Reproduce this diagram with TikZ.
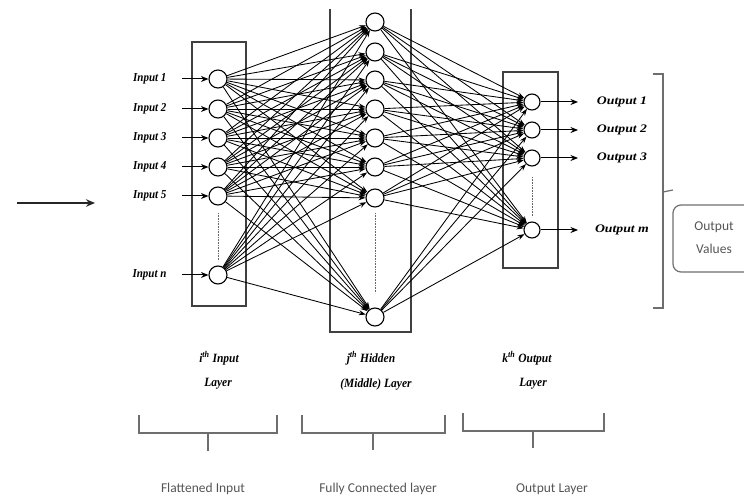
\documentclass[tikz,border=0pt]{standalone}
\usepackage{fontspec}
\setmainfont{Liberation Serif}
\newfontfamily\labsans{Carlito}
\usetikzlibrary{arrows.meta}
\definecolor{txtgray}{RGB}{85,85,85}
\definecolor{linegray}{RGB}{110,110,110}
\begin{document}
\begin{tikzpicture}[x=1pt,y=-1pt,
  neuron/.style={circle,draw,line width=1.1pt,minimum size=18pt,inner sep=0pt,fill=white},
  outneuron/.style={neuron,minimum size=16pt},
  conn/.style={line width=0.85pt,-{Stealth[length=7pt,width=5pt]}},
  bigarrow/.style={line width=1pt,-{Stealth[length=7.5pt,width=6pt]}},
  layerbox/.style={draw=black!75,line width=1.7pt},
  lab/.style={font=\fontsize{11}{13}\selectfont\bfseries\itshape,yscale=1.1},
  titlab/.style={font=\fontsize{11.5}{13}\selectfont\bfseries\itshape,yscale=1.1},
  outlab/.style={font=\fontsize{11}{13}\selectfont\bfseries\itshape,xscale=1.25,yscale=1.05},
  dotline/.style={draw=black!60,line width=0.9pt,dash pattern=on 0.8pt off 0.8pt},
  bracegray/.style={draw=linegray,line width=1.2pt},
  sanslab/.style={font=\labsans\fontsize{13.5}{15}\selectfont,text=txtgray}
]
\useasboundingbox (0,0) rectangle (744,502);

% layer boxes
\node[layerbox,minimum width=54pt,minimum height=264pt,inner sep=0pt] (ibox) at (219,174) {};
\draw[layerbox] (330,9) -- (330,332) -- (411,332) -- (411,9);
\node[layerbox,minimum width=55pt,minimum height=196pt,inner sep=0pt] (obox) at (530.5,170) {};

% neurons
\foreach \y [count=\i] in {79,109,138,167,196,275}
  \node[neuron] (i\i) at (218,\y) {};
\foreach \y [count=\i] in {22,52,80,109,138,167,198,317}
  \node[neuron] (h\i) at (375,\y) {};
\foreach \y [count=\i] in {102,130,158,230}
  \node[outneuron] (o\i) at (532,\y) {};

% dotted continuation lines
\coordinate (di1) at (218,213); \coordinate (di2) at (218,261);
\coordinate (dh1) at (375,213); \coordinate (dh2) at (375,293);
\coordinate (do1) at (532,177); \coordinate (do2) at (532,217);
\draw[dotline] (di1) -- (di2);
\draw[dotline] (dh1) -- (dh2);
\draw[dotline] (do1) -- (do2);

% full connections
\foreach \a in {1,...,6}
  \foreach \b in {1,...,8}
    \draw[conn] (i\a) -- (h\b);
\foreach \a in {1,...,8}
  \foreach \b in {1,...,4}
    \draw[conn] (h\a) -- (o\b);

% input labels and arrows
\foreach \y/\t [count=\i] in {79/1,109/2,138/3,167/4,196/5,275/n} {
  \node[lab,anchor=east] (li\i) at (170,\y) {Input \t};
  \coordinate (ls\i) at (182,\y);
  \draw[bigarrow] (ls\i) -- (i\i);
}

% output labels and arrows
\foreach \y/\t [count=\i] in {102/1,130/2,158/3,230/m} {
  \node[outlab] (lo\i) at (622,\y) {Output \t};
  \coordinate (le\i) at (578,\y);
  \draw[bigarrow] (o\i) -- (le\i);
}

% left input arrow
\coordinate (la) at (17,203);
\coordinate (lb) at (95,203);
\draw[draw=black!85,line width=2.2pt,-{Stealth[length=9pt,width=7.5pt]}] (la) -- (lb);

% right bracket
\draw[bracegray] (653,74) -- (663,74) -- (663,308) -- (653,308);
\draw[bracegray] (663,192) -- (673,190);

% output values box
\draw[draw=linegray,line width=1.2pt,rounded corners=8pt] (750,205) -- (673,205) -- (673,272) -- (750,272);
\node[sanslab] (ov1) at (714,227) {Output};
\node[sanslab] (ov2) at (714,249) {Values};

% layer titles
\node[titlab] (t1a) at (219,358) {i\textsuperscript{th} Input};
\node[titlab] (t1b) at (218,384) {Layer};
\node[titlab] (t2a) at (371,358) {j\textsuperscript{th} Hidden};
\node[titlab] (t2b) at (376,384) {(Middle) Layer};
\node[titlab] (t3a) at (527,358) {k\textsuperscript{th} Output};
\node[titlab] (t3b) at (533,384) {Layer};

% bottom braces
\draw[bracegray] (139,415) -- (139,433) -- (277,433) -- (277,415);
\draw[bracegray] (208,433) -- (208,451);
\draw[bracegray] (302,415) -- (302,433) -- (445,433) -- (445,415);
\draw[bracegray] (373,433) -- (373,450);
\draw[bracegray] (463,413) -- (463,431) -- (604,431) -- (604,413);
\draw[bracegray] (533,431) -- (533,448);

% bottom captions
\node[sanslab] (c1) at (203,489) {Flattened Input};
\node[sanslab] (c2) at (378,489) {Fully Connected layer};
\node[sanslab] (c3) at (552,489) {Output Layer};
\end{tikzpicture}
\end{document}
